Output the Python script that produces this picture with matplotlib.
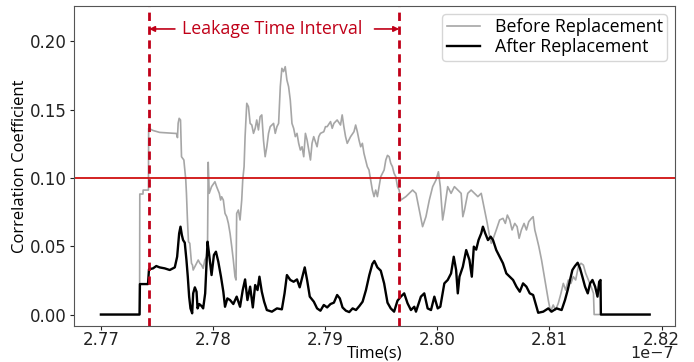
import matplotlib
matplotlib.use('Agg')
import matplotlib.pyplot as plt

# time values in units of 1e-7 s
t_after = [2.7700, 2.77345, 2.77348, 2.7742, 2.77429, 2.77465, 2.77494, 2.77524, 2.77569, 2.77614,
           2.77659, 2.7768, 2.77698, 2.7771, 2.77722, 2.77733, 2.77748, 2.77763, 2.77775, 2.77787,
           2.77799, 2.77814, 2.77823, 2.77838, 2.77853, 2.77862, 2.77877, 2.77898, 2.77912, 2.7793,
           2.77951, 2.77966, 2.77987, 2.78008, 2.78026, 2.78047, 2.78071, 2.78092, 2.78107, 2.78128,
           2.78152, 2.78181, 2.78211, 2.78241, 2.78265, 2.78286, 2.78307, 2.78331, 2.78355, 2.78376,
           2.78397, 2.78414, 2.78435, 2.78456, 2.7848, 2.78525, 2.7857, 2.78614, 2.78638, 2.78659,
           2.78689, 2.78719, 2.78749, 2.78773, 2.78797, 2.78818, 2.78839, 2.78863, 2.78899, 2.78928,
           2.78958, 2.78988, 2.79018, 2.79048, 2.79078, 2.79107, 2.79131, 2.79155, 2.79185, 2.79215,
           2.79245, 2.79275, 2.79305, 2.79334, 2.79364, 2.79394, 2.79421, 2.79439, 2.79466, 2.79496,
           2.79526, 2.79556, 2.79585, 2.79615, 2.79645, 2.79675, 2.79705, 2.79735, 2.79765, 2.79795,
           2.7981, 2.79854, 2.79884, 2.79914, 2.79944, 2.79974, 2.80004, 2.80027, 2.80048, 2.80063,
           2.80093, 2.80123, 2.80147, 2.80168, 2.80183, 2.80198, 2.80228, 2.80258, 2.80287, 2.80308,
           2.80326, 2.80347, 2.80368, 2.80392, 2.80407, 2.80428, 2.80452, 2.80476, 2.80497, 2.80526,
           2.80556, 2.80586, 2.80616, 2.80646, 2.80676, 2.80706, 2.80736, 2.80765, 2.80795, 2.80825,
           2.80855, 2.80885, 2.809, 2.80945, 2.8099, 2.81019, 2.81064, 2.81109, 2.81139, 2.81163,
           2.81184, 2.81205, 2.81228, 2.81252, 2.81273, 2.81294, 2.81318, 2.81342, 2.81363, 2.81384,
           2.81408, 2.81429, 2.81444, 2.81456, 2.81459, 2.81894]
v_after = [0, 0, 0.0223, 0.0223, 0.0331, 0.0338, 0.0355, 0.0345, 0.0338, 0.0326,
           0.0345, 0.0423, 0.0594, 0.0643, 0.0582, 0.0545, 0.0526, 0.0399, 0.0277, 0.0131,
           0.0045, 0.0009, 0.0155, 0.0199, 0.0167, 0.0045, 0.0077, 0.0062, 0.0045, 0.0155,
           0.0533, 0.0436, 0.0289, 0.0436, 0.046, 0.0387, 0.0277, 0.0167, 0.0057, 0.0118,
           0.0106, 0.0077, 0.0131, 0.0057, 0.0179, 0.0257, 0.0106, 0.0204, 0.0052, 0.0216,
           0.0179, 0.0277, 0.0167, 0.0094, 0.0033, 0.0021, 0.0045, 0.0038, 0.0155, 0.0289,
           0.0253, 0.024, 0.0257, 0.0199, 0.0277, 0.0345, 0.0253, 0.0131, 0.0094, 0.0045,
           0.0028, 0.007, 0.0052, 0.0077, 0.0087, 0.0143, 0.0118, 0.0052, 0.0028, 0.0018,
           0.0045, 0.0033, 0.0062, 0.0094, 0.0179, 0.0289, 0.037, 0.0392, 0.0345, 0.0321,
           0.0228, 0.0087, 0.0045, 0.0021, 0.0101, 0.0131, 0.0155, 0.0082, 0.0033, 0.0057,
           0.0021, 0.0131, 0.0155, 0.0045, 0.0033, 0.0131, 0.0045, 0.0057, 0.0155, 0.0228,
           0.0253, 0.0301, 0.0423, 0.0326, 0.0155, 0.0277, 0.035, 0.0472, 0.0399, 0.0277,
           0.0497, 0.0475, 0.0545, 0.0594, 0.0643, 0.0594, 0.0545, 0.057, 0.0545, 0.0472,
           0.0423, 0.0375, 0.0301, 0.0277, 0.0253, 0.0204, 0.0167, 0.0228, 0.0204, 0.0155,
           0.0143, 0.0057, 0.0013, 0.0021, 0.0045, 0.0021, 0.0045, 0.0033, 0.0106, 0.0179,
           0.0253, 0.0326, 0.0355, 0.0379, 0.0338, 0.0277, 0.0204, 0.0155, 0.0228, 0.0253,
           0.0204, 0.0131, 0.024, 0.0253, 0, 0]

t_before = [2.7700, 2.77345, 2.77347, 2.77375, 2.77377, 2.77424, 2.77426, 2.77465, 2.77524, 2.77614,
            2.77674, 2.77683, 2.77689, 2.77698, 2.7771, 2.77719, 2.7774, 2.77757, 2.77763, 2.77772,
            2.77781, 2.77793, 2.77808, 2.77817, 2.77823, 2.77838, 2.77853, 2.77868, 2.77883, 2.77898,
            2.77912, 2.77927, 2.77942, 2.77951, 2.77957, 2.77966, 2.77987, 2.78017, 2.78032, 2.78056,
            2.78068, 2.78077, 2.78092, 2.78107, 2.78122, 2.78137, 2.78152, 2.78167, 2.78181, 2.78196,
            2.78205, 2.78211, 2.78226, 2.78241, 2.78256, 2.78265, 2.78277, 2.78286, 2.78301, 2.78316,
            2.78331, 2.78346, 2.78361, 2.78376, 2.7839, 2.78405, 2.7842, 2.78435, 2.7845, 2.78465,
            2.7848, 2.78495, 2.7851, 2.7854, 2.78555, 2.7857, 2.78585, 2.786, 2.78614, 2.78629,
            2.78644, 2.78659, 2.78674, 2.78689, 2.78704, 2.78719, 2.78734, 2.78749, 2.78764, 2.78779,
            2.78794, 2.78809, 2.78824, 2.78839, 2.78854, 2.78869, 2.78883, 2.78898, 2.78928, 2.78943,
            2.78958, 2.78988, 2.79003, 2.79018, 2.79048, 2.79063, 2.79078, 2.79107, 2.79137, 2.79152,
            2.79167, 2.79182, 2.79197, 2.79227, 2.79257, 2.79272, 2.79287, 2.79302, 2.79317, 2.79332,
            2.79346, 2.79361, 2.79376, 2.79391, 2.79406, 2.79421, 2.79436, 2.79451, 2.79466, 2.79481,
            2.79496, 2.79511, 2.79526, 2.79541, 2.79556, 2.79571, 2.79585, 2.796, 2.79615, 2.7963,
            2.79645, 2.7966, 2.79675, 2.7972, 2.7975, 2.7978, 2.7981, 2.79839, 2.79869, 2.79899,
            2.79929, 2.79959, 2.79989, 2.8001, 2.80027, 2.80048, 2.80063, 2.80093, 2.80123, 2.80153,
            2.80183, 2.80213, 2.80228, 2.80243, 2.80272, 2.80302, 2.80332, 2.80362, 2.80392, 2.80422,
            2.80446, 2.80467, 2.80482, 2.80505, 2.80526, 2.80556, 2.80586, 2.80607, 2.80625, 2.80646,
            2.80667, 2.80691, 2.80712, 2.8073, 2.8075, 2.80774, 2.80795, 2.80816, 2.8084, 2.80855,
            2.8087, 2.80885, 2.80906, 2.8093, 2.8096, 2.8099, 2.8101, 2.81034, 2.81055, 2.81079,
            2.81103, 2.81124, 2.81145, 2.81169, 2.81192, 2.81213, 2.81234, 2.81258, 2.81282, 2.81303,
            2.81324, 2.81348, 2.81372, 2.81393, 2.81399, 2.81894]
v_before = [0, 0, 0.0882, 0.0882, 0.0911, 0.0911, 0.1363, 0.1347, 0.1333, 0.1328,
            0.1325, 0.1295, 0.14, 0.1436, 0.1424, 0.1155, 0.1131, 0.0985, 0.0887, 0.0692,
            0.0533, 0.0521, 0.0375, 0.0362, 0.0326, 0.035, 0.0375, 0.0399, 0.0375, 0.0362,
            0.0338, 0.0399, 0.0423, 0.0497, 0.1114, 0.0887, 0.0936, 0.0972, 0.0936, 0.0887,
            0.0838, 0.0862, 0.0838, 0.074, 0.0716, 0.0667, 0.0594, 0.0497, 0.0399, 0.0277,
            0.0253, 0.074, 0.0765, 0.0692, 0.0838, 0.0985, 0.1082, 0.1302, 0.1546, 0.1521,
            0.1399, 0.1387, 0.1326, 0.1363, 0.1424, 0.1351, 0.1448, 0.1461, 0.1277, 0.1155,
            0.1228, 0.1326, 0.1375, 0.1399, 0.1326, 0.1375, 0.1399, 0.1668, 0.1802, 0.1778,
            0.1814, 0.1716, 0.1668, 0.157, 0.1399, 0.1363, 0.1302, 0.1326, 0.1253, 0.1204,
            0.1228, 0.1155, 0.1326, 0.1277, 0.1204, 0.1131, 0.1253, 0.1302, 0.1228, 0.1302,
            0.1326, 0.1338, 0.1375, 0.1375, 0.1412, 0.1363, 0.1399, 0.1424, 0.1387, 0.1461,
            0.1375, 0.1302, 0.1253, 0.1302, 0.1338, 0.1387, 0.1338, 0.1277, 0.1228, 0.1253,
            0.118, 0.1131, 0.1082, 0.1058, 0.0985, 0.0911, 0.0863, 0.0911, 0.0863, 0.0936,
            0.1009, 0.1033, 0.1058, 0.1131, 0.1165, 0.1155, 0.1107, 0.1082, 0.1033, 0.1009,
            0.0936, 0.0911, 0.0838, 0.0863, 0.0887, 0.0911, 0.0887, 0.0765, 0.0643, 0.0716,
            0.0838, 0.0936, 0.0985, 0.1045, 0.0936, 0.0692, 0.0765, 0.0936, 0.0887, 0.0936,
            0.0911, 0.0887, 0.0716, 0.0765, 0.0887, 0.0911, 0.0887, 0.0863, 0.0887, 0.0765,
            0.0667, 0.057, 0.0521, 0.057, 0.0619, 0.0692, 0.0704, 0.0667, 0.0728, 0.0692,
            0.0619, 0.0667, 0.0643, 0.0558, 0.0619, 0.0667, 0.0619, 0.068, 0.0704, 0.0716,
            0.0619, 0.057, 0.0497, 0.0399, 0.0253, 0.0106, 0.0021, 0.007, 0.0033, 0.0082,
            0.0155, 0.0228, 0.0179, 0.0253, 0.0228, 0.0277, 0.0253, 0.035, 0.0375, 0.0362,
            0.0301, 0.0253, 0.0204, 0.0155, 0, 0]

leak_start = 2.7743
leak_end = 2.7966
threshold = 0.10

red = '#c00018'

fig = plt.figure(figsize=(6.94, 3.62), dpi=100)
ax = fig.add_axes([0.1066, 0.0994, 0.866, 0.884])

ax.plot([t * 1e-7 for t in t_before], v_before, color='#a6a6a6', lw=1.2, label='Before Replacement')
ax.plot([t * 1e-7 for t in t_after], v_after, color='black', lw=1.7, label='After Replacement')

ax.axhline(threshold, color='#d01010', lw=1.3)
ax.axvline(leak_start * 1e-7, color=red, lw=2, ls=(0, (3, 2)))
ax.axvline(leak_end * 1e-7, color=red, lw=2, ls=(0, (3, 2)))

# interval label with arrows
y_txt = 0.209
ax.text(2.7853e-7, y_txt, 'Leakage Time Interval', color=red,
        fontsize=12.8, ha='center', va='center', family='Open Sans')
ax.annotate('', xy=(leak_start * 1e-7, y_txt), xytext=(2.7766e-7, y_txt),
            arrowprops=dict(arrowstyle='-|>', color=red, lw=1.2, mutation_scale=8,
                            shrinkA=0, shrinkB=0))
ax.annotate('', xy=(leak_end * 1e-7, y_txt), xytext=(2.7944e-7, y_txt),
            arrowprops=dict(arrowstyle='-|>', color=red, lw=1.2, mutation_scale=8,
                            shrinkA=0, shrinkB=0))

ax.set_xlim(2.7676e-7, 2.8212e-7)
ax.set_ylim(-0.0084, 0.2258)
ax.set_xticks([2.77e-7, 2.78e-7, 2.79e-7, 2.80e-7, 2.81e-7, 2.82e-7])
ax.set_yticks([0.0, 0.05, 0.10, 0.15, 0.20])
ax.tick_params(labelsize=12, colors='#222222', length=3, pad=2.5)
ax.tick_params(axis='x', pad=0.8)
# multiplier drawn by hand so it fits inside the canvas
ax.xaxis.get_offset_text().set_visible(False)
ax.text(0.998, -0.101, '1e\u22127', transform=ax.transAxes, ha='right', va='baseline',
        fontsize=11.5, color='#222222')
for s in ax.spines.values():
    s.set_color('#555555')

ax.set_xlabel('Time(s)', fontsize=12, family='Open Sans', labelpad=-2.5)
ax.set_ylabel('Correlation Coefficient', fontsize=12, family='Open Sans', labelpad=1)

ax.legend(loc='upper right', prop={'family': 'Open Sans', 'size': 12.8},
          handlelength=1.9, borderaxespad=0.45, labelspacing=0.1, borderpad=0.25)

plt.savefig('out.png', dpi=100)
